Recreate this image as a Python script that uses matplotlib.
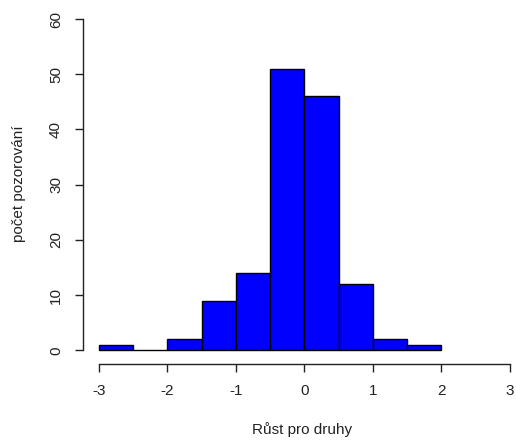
import matplotlib.pyplot as plt

plt.rcParams['font.family'] = ['Liberation Sans', 'DejaVu Sans']

# histogram bins (left edges) and counts
bin_edges = [-3.0, -2.5, -2.0, -1.5, -1.0, -0.5, 0.0, 0.5, 1.0, 1.5]
counts = [1, 0, 2, 9, 14, 51, 46, 12, 2, 1]
bin_width = 0.5
xticks = [-3, -2, -1, 0, 1, 2, 3]
yticks = [0, 10, 20, 30, 40, 50, 60]

W, H = 516, 441
fig = plt.figure(figsize=(W / 100, H / 100), dpi=100)
ax = fig.add_axes([0.160, 0.1757, 0.840, 0.811])

ax.bar(bin_edges, counts, width=bin_width, align='edge',
       color='#0000FF', edgecolor='black', linewidth=1.0)

ax.set_xlim(-3.24, 3.09)
ax.set_ylim(-2.4, 62.4)

for s in ['top', 'right']:
    ax.spines[s].set_visible(False)
ax.spines['left'].set_bounds(0, 60)
ax.spines['bottom'].set_bounds(-3, 3)
for s in ['left', 'bottom']:
    ax.spines[s].set_color('#222222')
    ax.spines[s].set_linewidth(1.0)

ax.set_xticks(xticks)
ax.set_yticks(yticks)
ax.set_xticklabels([str(t) for t in xticks])
ax.set_yticklabels([str(t) for t in yticks], rotation=90, va='center')
ax.tick_params(axis='both', direction='out', length=6, width=1.0,
               color='#222222', labelsize=11, labelcolor='#222222')
ax.tick_params(axis='x', pad=9)
ax.tick_params(axis='y', pad=8)

# axis titles placed in figure pixels
fig.text(302 / W, 1 - 430 / H, 'Růst pro druhy', fontsize=11,
         color='#222222', ha='center', va='center')
fig.text(19 / W, 1 - 184 / H, 'počet pozorování', fontsize=11,
         color='#222222', ha='center', va='center', rotation=90)

fig.savefig('out.png', dpi=100)
